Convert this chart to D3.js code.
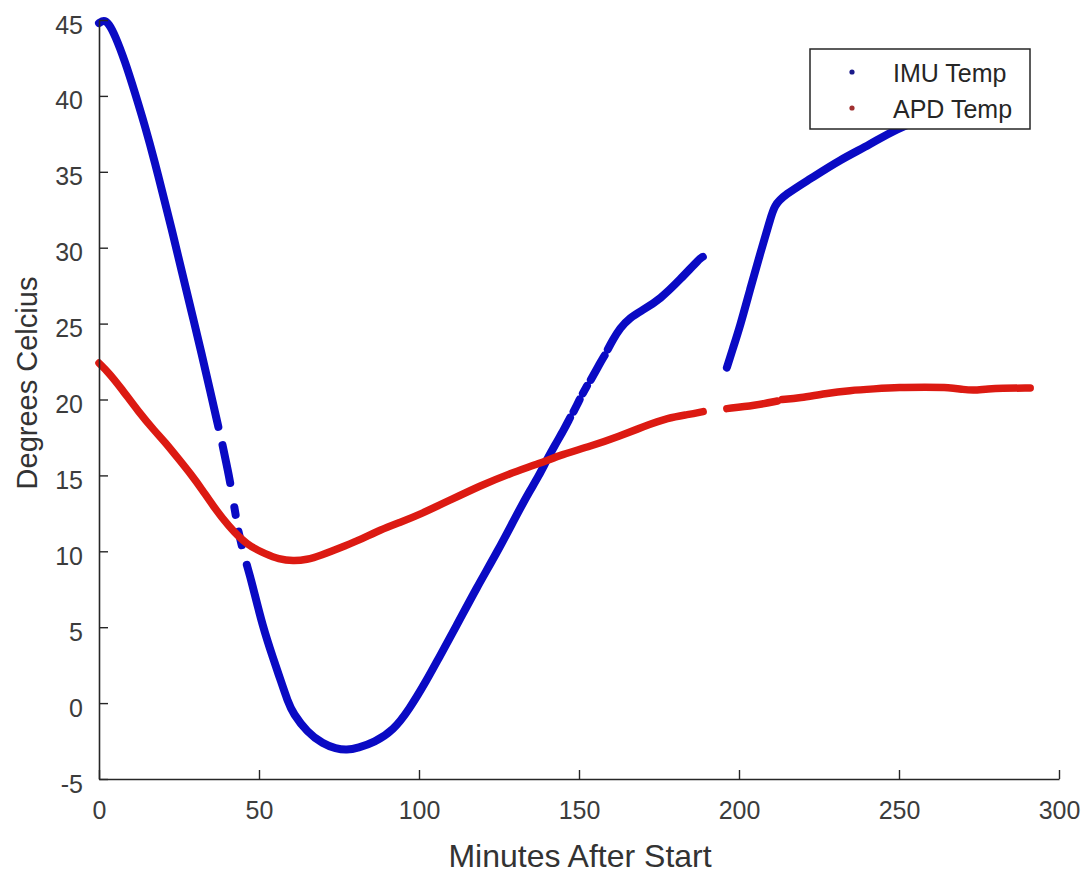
<!DOCTYPE html>
<html>
<head>
<meta charset="utf-8">
<script src="https://cdnjs.cloudflare.com/ajax/libs/d3/7.8.5/d3.min.js"></script>
<style>
  body { margin: 0; background: #fff; }
  svg { display: block; font-family: "Liberation Sans", Arial, Helvetica, sans-serif; }
</style>
</head>
<body>
<svg id="chart"></svg>
<script>
var imuMinutes = [0, 1.5, 3, 5, 8.1, 11.25, 14.4, 17.5, 20.6, 23.2, 25.8, 28.9, 32.1, 34.7, 37.3, null,
  38.6, 40.4, 41.0, null, 42.3, 42.7, null, 43.6, 44.6, null,
  46.2, 47.7, 51.2, 54.5, 56.6, 59, 60.7, 65, 70, 74, 77.4, 81, 86, 92, 97, 102.4, 106, 111.5, 118, 124.6, 131,
  134.7, 137.5, 139.9, 142.5, 145, 147.2, null, 148.3, 149.3, 150.2, null, 151.2, 152.5, null,
  153.7, 156.6, 158, null, 159, 160.5, 162.8, 165.9, 170, 175.3, 181.6, 187.8, 188.7, null,
  196.2, 198, 200.3, 203.4, 206.6, 209.7, 211, 214.4, 222, 231.6, 241, 248.75, 260, 272, 284];
var imuTemp = [44.8, 45.0, 44.8, 44.0, 42.3, 40.2, 38.0, 35.6, 33.0, 30.8, 28.5, 25.8, 23.0, 20.6, 18.2, null,
  17.0, 15.2, 14.5, null, 12.9, 12.4, null, 11.3, 10.4, null,
  9.1, 8.0, 5, 2.9, 1.6, 0.1, -0.7, -1.9, -2.7, -3.0, -3.1, -2.95, -2.6, -1.8, -0.4, 1.5, 2.9, 5.0, 7.6, 10.0, 12.6,
  14.0, 15.0, 16.0, 17.0, 17.9, 18.8, null, 19.2, 19.6, 20.0, null, 20.4, 20.9, null,
  21.3, 22.4, 22.9, null, 23.3, 23.9, 24.7, 25.4, 25.9, 26.6, 27.9, 29.3, 29.4, null,
  22.1, 23.3, 24.8, 27.2, 29.6, 31.8, 32.8, 33.5, 34.5, 35.8, 36.8, 37.8, 38.7, 39.5, 40.1];

var apdMinutes = [0, 2.9, 7.1, 12.3, 17.5, 20.6, 24.8, 29, 32.1, 35.6, 40.3, 46.2, 52.4, 56, 60.7, 65, 69,
  77.4, 82, 87.8, 94, 100, 110, 119, 128, 137.8, 145, 153.4, 162.8, 170, 178, 184, 188.8, null,
  196.2, 205, 212, null, 213.5, 219, 227, 234.7, 242, 250.3, 258, 266, 270, 273.75, 278, 281.6, 291];
var apdTemp = [22.4, 21.8, 20.7, 19.2, 17.9, 17.2, 16.1, 15.0, 14.1, 13.0, 11.7, 10.4, 9.8, 9.5, 9.35, 9.45, 9.7,
  10.4, 10.8, 11.4, 11.9, 12.4, 13.4, 14.3, 15.1, 15.8, 16.4, 16.9, 17.6, 18.2, 18.8, 19.0, 19.2, null,
  19.4, 19.6, 19.9, null, 20.0, 20.1, 20.4, 20.6, 20.7, 20.8, 20.8, 20.8, 20.65, 20.6, 20.7, 20.75, 20.75];

var xTicks = [0, 50, 100, 150, 200, 250, 300];
var yTicks = [-5, 0, 5, 10, 15, 20, 25, 30, 35, 40, 45];
var seriesNames = ["IMU Temp", "APD Temp"];
var seriesColors = ["#0a0ac4", "#dc1a12"];

var margin = {top: 20, right: 27, bottom: 94, left: 99},
    width = 1086 - margin.left - margin.right,
    height = 873 - margin.top - margin.bottom;

var svg = d3.select("#chart")
    .attr("width", width + margin.left + margin.right)
    .attr("height", height + margin.top + margin.bottom);

var g = svg.append("g")
    .attr("transform", "translate(" + margin.left + "," + margin.top + ")");

var xScale = d3.scaleLinear().domain([0, 300]).range([0, width]);
var yScale = d3.scaleLinear().domain([-5, 45]).range([height, 0]);

function zipSeries(xs, ys) {
  return xs.map(function(x, i) { return x === null ? null : [x, ys[i]]; });
}

var line = d3.line()
    .defined(function(d) { return d !== null; })
    .x(function(d) { return xScale(d[0]); })
    .y(function(d) { return yScale(d[1]); })
    .curve(d3.curveBasis);

// data first, axes drawn on top
var series = [zipSeries(imuMinutes, imuTemp), zipSeries(apdMinutes, apdTemp)];
g.selectAll(".series")
  .data(series)
  .enter()
  .append("path")
    .attr("class", "series")
    .attr("d", line)
    .attr("fill", "none")
    .attr("stroke", function(d, i) { return seriesColors[i]; })
    .attr("stroke-width", function(d, i) { return i === 0 ? 8 : 7.5; })
    .attr("stroke-linecap", "round")
    .attr("stroke-linejoin", "round");

var plainNum = function(d) { return String(d); };

var xAxis_group = g.append("g")
    .attr("transform", "translate(0," + height + ")")
    .call(d3.axisBottom(xScale).tickValues(xTicks).tickFormat(plainNum)
      .tickSize(-9).tickSizeOuter(0).tickPadding(22));

var yAxis_group = g.append("g")
    .call(d3.axisLeft(yScale).tickValues(yTicks).tickFormat(plainNum)
      .tickSize(-9).tickSizeOuter(0).tickPadding(16));

[xAxis_group, yAxis_group].forEach(function(ax) {
  ax.select(".domain").attr("stroke", "#262626").attr("stroke-width", 1.6);
  ax.selectAll(".tick line").attr("stroke", "#262626").attr("stroke-width", 1.4);
  ax.selectAll(".tick text")
    .attr("fill", "#3c3c3c")
    .style("font-size", "25px")
    .style("font-family", "'Liberation Sans', Arial, sans-serif");
});
yAxis_group.selectAll(".tick text").attr("dy", "0.52em");

// axis labels
svg.append("text")
    .attr("x", 580)
    .attr("y", 867)
    .attr("text-anchor", "middle")
    .attr("fill", "#333")
    .style("font-size", "32px")
    .text("Minutes After Start");

svg.append("text")
    .attr("transform", "translate(37,383)rotate(-90)")
    .attr("text-anchor", "middle")
    .attr("fill", "#333")
    .style("font-size", "29px")
    .text("Degrees Celcius");

// legend
var legend = svg.append("g").attr("transform", "translate(810,49)");
legend.append("rect")
    .attr("width", 220)
    .attr("height", 80)
    .attr("fill", "#fff")
    .attr("stroke", "#262626")
    .attr("stroke-width", 1.5);

var items = legend.selectAll(".item")
  .data(seriesNames)
  .enter()
  .append("g")
    .attr("class", "item")
    .attr("transform", function(d, i) { return "translate(0," + (23 + i * 36) + ")"; });

items.append("circle")
    .attr("cx", 42)
    .attr("cy", 0)
    .attr("r", 2.6)
    .attr("fill", function(d, i) { return i === 0 ? "#1a1a8a" : "#a03030"; });

items.append("text")
    .attr("x", 83)
    .attr("y", 10)
    .attr("fill", "#262626")
    .style("font-size", "25px")
    .text(function(d) { return d; });
</script>
</body>
</html>
